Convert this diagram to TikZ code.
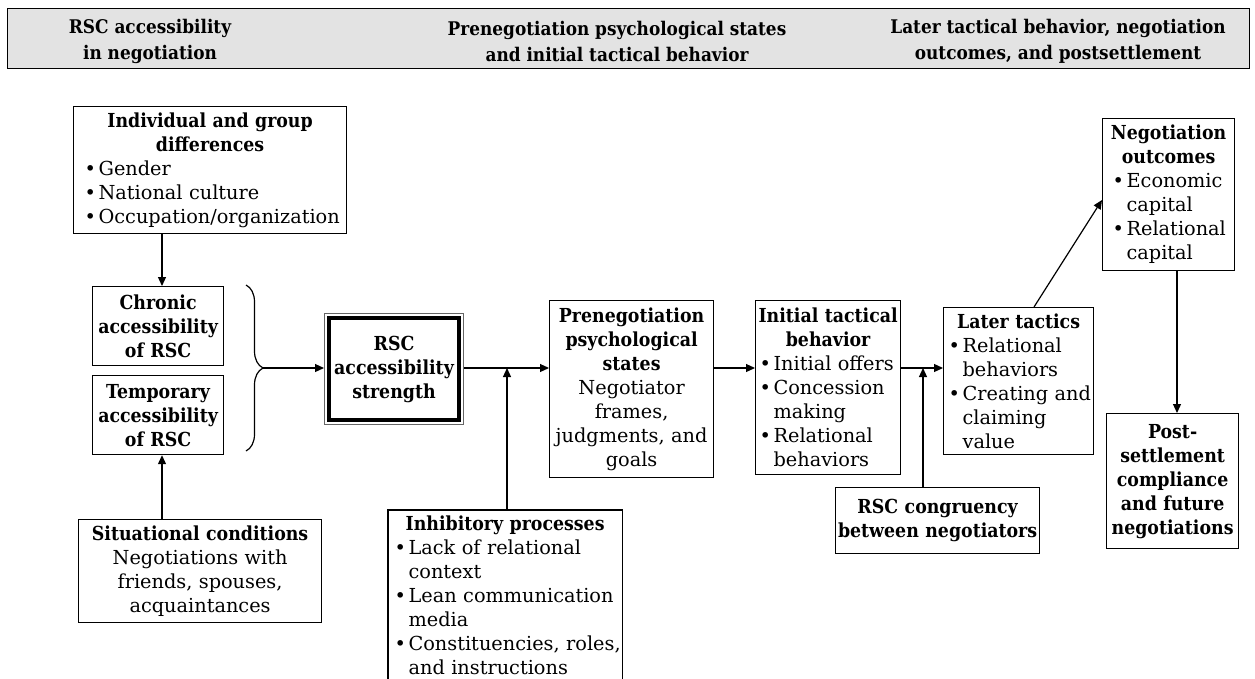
\documentclass[tikz,border=0pt]{standalone}
\usepackage{fontspec}
\setmainfont{DejaVu Serif}[BoldFeatures={FakeStretch=0.9}]
\usetikzlibrary{arrows.meta,decorations.pathreplacing,calc}
\newlength\bulpad
\newcommand\VB[1]{\vbox{#1}}
\newcommand\Lc[1]{\hbox to\hsize{\hss#1\hss}}
\newcommand\Lt[1]{\hbox to\hsize{\hss\bfseries#1\hss}}
\newcommand\Lb[1]{\hbox to\hsize{\hspace*{\bulpad}\makebox[13pt][l]{\hspace*{-1pt}\textbullet}#1\hss}}
\newcommand\Li[1]{\hbox to\hsize{\hspace*{\bulpad}\hspace*{13pt}#1\hss}}
\begin{document}
\begin{tikzpicture}[x=1pt,y=-1pt,
  box/.style={draw, line width=1.2pt, inner xsep=3pt, inner ysep=0pt, anchor=north west,
    font=\fontsize{19.3}{24}\selectfont},
  arr/.style={-{Triangle[length=9pt,width=8pt]}, line width=1.2pt},
  htxt/.style={align=center, inner sep=0pt, font=\bfseries\fontsize{18.8}{26}\selectfont}]
\useasboundingbox (0,0) rectangle (1255,678);
% header
\node[draw, line width=1.3pt, fill=black!11, minimum width=1242pt, minimum height=60pt,
  anchor=north west, inner sep=0pt] (hdr) at (7,8) {};
\node[htxt] (h1) at (150,41) {RSC accessibility\\in negotiation};
\node[htxt] (h2) at (617,41) {Prenegotiation psychological states\\and initial tactical behavior};
\node[htxt] (h3) at (1058,41) {Later tactical behavior, negotiation\\outcomes, and postsettlement};
% boxes
\node[box, minimum height=127pt, text width=267pt] (ind) at (73,106)
  {\VB{\setlength\bulpad{9pt}\Lt{Individual and group}\Lt{differences}\Lb{Gender}\Lb{National culture}\Lb{Occupation/organization}}};
\node[box, minimum height=79pt, text width=125pt] (chr) at (92,286)
  {\VB{\Lt{Chronic}\Lt{accessibility}\Lt{of RSC}}};
\node[box, minimum height=79pt, text width=125pt] (tmp) at (92,375)
  {\VB{\Lt{Temporary}\Lt{accessibility}\Lt{of RSC}}};
\node[box, minimum height=103pt, text width=237pt] (sit) at (78,519)
  {\VB{\Lt{Situational conditions}\Lc{Negotiations with}\Lc{friends, spouses,}\Lc{acquaintances}}};
\node[draw=black!60, line width=1pt, minimum width=139pt, minimum height=111pt, anchor=north west,
  inner sep=0pt, align=center, font=\bfseries\fontsize{19.3}{24}\selectfont] (rsc) at (324,313)
  {RSC\\accessibility\\strength};
\draw[line width=4.5pt] ($(rsc.north west)+(5,5)$) rectangle ($(rsc.south east)+(-5,-5)$);
\node[box, minimum height=177pt, text width=158pt] (pre) at (549,300)
  {\VB{\Lt{Prenegotiation}\Lt{psychological}\Lt{states}\Lc{Negotiator}\Lc{frames,}\Lc{judgments, and}\Lc{goals}}};
\node[box, draw=none, inner ysep=5.5pt, text width=227pt] (inh) at (388,510)
  {\VB{\setlength\bulpad{4pt}\Lt{Inhibitory processes}\Lb{Lack of relational}\Li{context}\Lb{Lean communication}\Li{media}\Lb{Constituencies, roles,}\Li{and instructions}}};
\draw[line width=1.2pt] ($(inh.north west)+(0,200)$) -- (inh.north west) -- (inh.north east) -- ++(0,200);
\node[box, minimum height=174pt, text width=139pt] (init) at (755,300)
  {\VB{\setlength\bulpad{2pt}\Lt{Initial tactical}\Lt{behavior}\Lb{Initial offers}\Lb{Concession}\Li{making}\Lb{Relational}\Li{behaviors}}};
\node[box, minimum height=147pt, text width=144pt] (later) at (943,307)
  {\VB{\setlength\bulpad{3pt}\Lt{Later tactics}\Lb{Relational}\Li{behaviors}\Lb{Creating and}\Li{claiming}\Li{value}}};
\node[box, minimum height=66pt, text width=198pt] (cong) at (835,487)
  {\VB{\Lt{RSC congruency}\Lt{between negotiators}}};
\node[box, minimum height=152pt, text width=126pt] (out) at (1102,118)
  {\VB{\setlength\bulpad{8pt}\Lt{Negotiation}\Lt{outcomes}\Lb{Economic}\Li{capital}\Lb{Relational}\Li{capital}}};
\node[box, minimum height=135pt, text width=126pt] (post) at (1106,413)
  {\VB{\Lt{Post-}\Lt{settlement}\Lt{compliance}\Lt{and future}\Lt{negotiations}}};
% brace
\coordinate (bt) at (263,368);
\draw[line width=1.2pt, decorate, decoration={brace, amplitude=17pt}] (246,285) -- (246,451);
% connectors
\coordinate (j1) at (507,368);
\coordinate (j2) at (923,368);
\draw[arr] (ind.south -| 162,0) -- (chr.north -| 162,0);
\draw[arr] (sit.north -| 162,0) -- (tmp.south -| 162,0);
\draw[arr] (bt) -- (bt -| rsc.west);
\draw[arr] (bt -| rsc.east) -- (bt -| pre.west);
\draw[arr] (inh.north -| j1) -- (j1);
\draw[arr] (bt -| pre.east) -- (bt -| init.west);
\draw[arr] (bt -| init.east) -- (bt -| later.west);
\draw[arr] (cong.north -| j2) -- (j2);
\draw[arr] (later.north -| 1034,0) -- (out.west |- 0,200);
\draw[arr] (out.south -| 1177,0) -- (post.north -| 1177,0);
\end{tikzpicture}
\end{document}
